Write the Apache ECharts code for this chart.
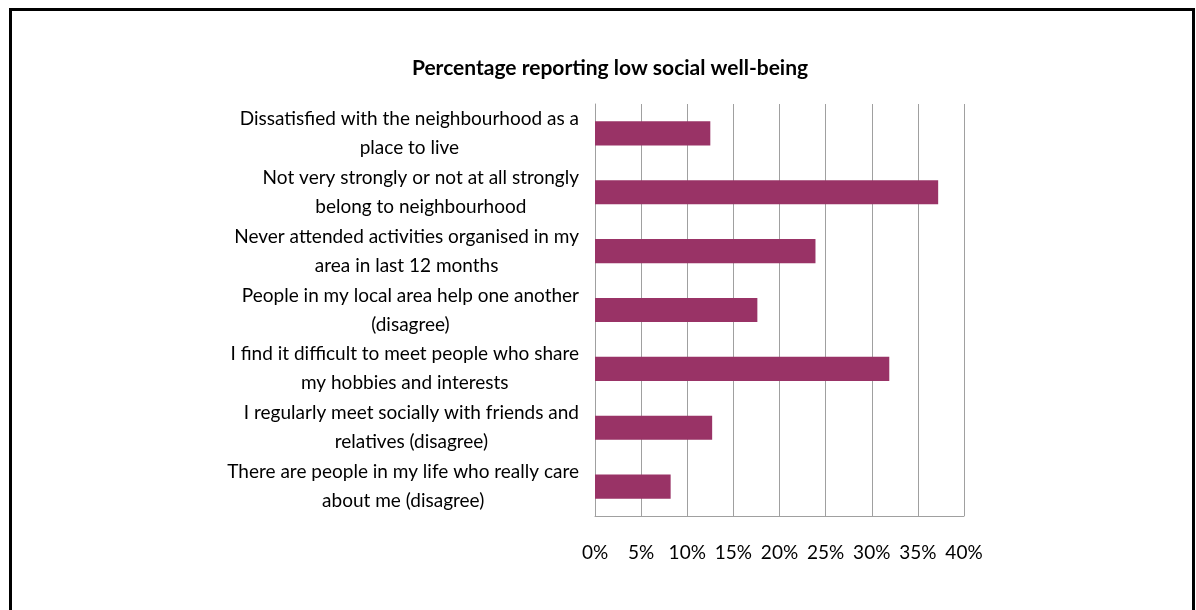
<!DOCTYPE html>
<html>
<head>
<meta charset="utf-8">
<script src="https://cdn.jsdelivr.net/npm/echarts@6/dist/echarts.min.js"></script>
<style>
  html, body { margin: 0; padding: 0; background: #fff; }
  #chart { width: 1196px; height: 610px; }
</style>
</head>
<body>
<div id="chart"></div>
<script>
// categories (top to bottom), two lines each as in the original
const categories = [
  "Dissatisfied with the neighbourhood as a\nplace to live",
  "Not very strongly or not at all strongly\nbelong to neighbourhood",
  "Never attended activities organised in my\narea in last 12 months",
  "People in my local area help one another\n(disagree)",
  "I find it difficult to meet people who share\nmy hobbies and interests",
  "I regularly meet socially with friends and\nrelatives (disagree)",
  "There are people in my life who really care\nabout me (disagree)",
];
// percentage reporting low social well-being
const values = [12.5, 37.2, 23.9, 17.6, 31.9, 12.7, 8.2];
const xTicks = [0, 5, 10, 15, 20, 25, 30, 35, 40];

const font = "Lato, 'Open Sans', sans-serif";
const chart = echarts.init(document.getElementById("chart"));
chart.setOption({
  animation: false,
  title: {
    text: "Percentage reporting low social well-being",
    left: 605,
    textAlign: "center",
    top: 53,
    textStyle: { fontFamily: font, fontSize: 21, fontWeight: "bold", color: "#000" },
  },
  graphic: [
    {
      type: "rect",
      shape: { x: 10.5, y: 9.5, width: 1183, height: 640 },
      style: { fill: null, stroke: "#000", lineWidth: 3 },
    },
  ],
  grid: { left: 595, right: 232, top: 104, bottom: 94 },
  xAxis: {
    type: "value",
    min: xTicks[0],
    max: xTicks[xTicks.length - 1],
    interval: 5,
    axisLine: { show: true, lineStyle: { color: "#a0a0a0", width: 1 } },
    axisTick: { show: false },
    splitLine: { show: true, lineStyle: { color: "#a0a0a0", width: 1 } },
    axisLabel: {
      margin: 27,
      color: "#000",
      fontFamily: font,
      fontSize: 19,
      formatter: (v) => v + "%",
    },
  },
  yAxis: {
    type: "category",
    inverse: true,
    data: categories,
    axisLine: { show: true, lineStyle: { color: "#a0a0a0", width: 1 } },
    axisTick: { show: false },
    axisLabel: {
      margin: 16,
      interval: 0,
      formatter: (v) => v.split("\n").map((s) => "{c|" + s + "}").join("\n"),
      rich: {
        c: { align: "center", fontFamily: font, fontSize: 19, lineHeight: 29, color: "#000" },
      },
    },
  },
  series: [
    {
      type: "bar",
      data: values,
      barCategoryGap: "59%",
      itemStyle: { color: "#993366" },
    },
  ],
});
</script>
</body>
</html>
